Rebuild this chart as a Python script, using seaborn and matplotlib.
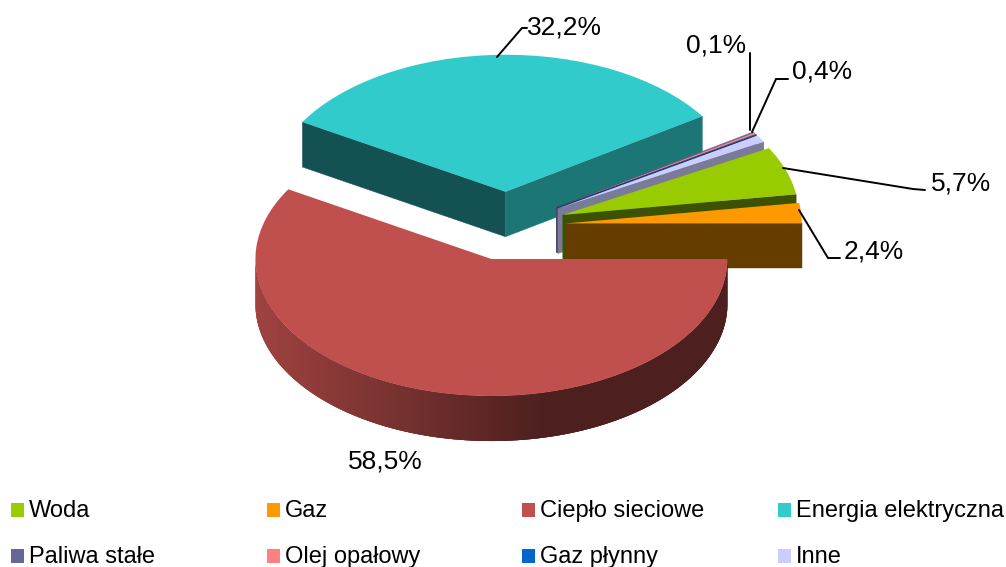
import matplotlib
matplotlib.use('Agg')
import matplotlib.pyplot as plt
from matplotlib.patches import Rectangle
import seaborn as sns
import numpy as np

# data
categories = ['Woda', 'Gaz', 'Ciepło sieciowe', 'Energia elektryczna',
              'Paliwa stałe', 'Olej opałowy', 'Gaz płynny', 'Inne']
shares = [5.7, 2.4, 58.5, 32.2, 0.1, 0.2, 0.05, 0.85]
colors = ['#99CC00', '#FF9900', '#C0504D', '#31CBCC',
          '#666699', '#FF8080', '#0066CC', '#CCCCFF']
labels = ['5,7%', '2,4%', '58,5%', '32,2%', '0,1%', '0,4%']

# layout, in pixels of the 1006x567 picture
W, H = 1006, 567
CX, CY = 507, 226
RX, RY = 236, 137
DEPTH = 45 / RY
EXPLODE = 0.25

# back to front
draw_order = [3, 4, 5, 6, 7, 0, 1, 2]
side_shade = [.4, .4, .4, .58, .6, .6, .6, .6]

label_pos = [(931, 190), (844, 258), (348, 468), (527, 35), (686, 53), (792, 79)]
leaders = [
    [(783, 168), (913, 189), (925, 190)],
    [(799, 210), (828, 258), (840, 258)],
    None,
    [(497, 57), (522, 28), (527, 28)],
    [(750, 130), (750, 53)],
    [(752, 132), (776, 79), (788, 79)],
]
legend_x = [11, 267, 522, 778]
legend_y = [517, 563]

sns.set_theme(style='white')
plt.rcParams['font.family'] = ['Liberation Sans', 'DejaVu Sans']


def to_data(px, py):
    return (px - CX) / RX, (CY - py) / RY


def shaded(color, k):
    return tuple(np.array(matplotlib.colors.to_rgb(color)) * k)


fig = plt.figure(figsize=(W / 100, H / 100), dpi=100)
ax = fig.add_axes([0, 0, 1, 1])

wedges, _ = ax.pie(shares, colors=sns.color_palette(colors), explode=[EXPLODE] * len(shares),
                   startangle=360 * sum(shares[:2]) / sum(shares), counterclock=False,
                   wedgeprops={'linewidth': 0})

for rank, i in enumerate(draw_order):
    w = wedges[i]
    z = 10 + rank * 3
    w.set_zorder(z + 2)
    x0, y0 = w.center

    # flat cut faces, only those turned to the viewer
    for theta, k in ((w.theta2, .4), (w.theta1, side_shade[i])):
        c, s = np.cos(np.radians(theta)), np.sin(np.radians(theta))
        visible = c < 0 if theta == w.theta2 else c > 0
        if visible:
            ax.fill([x0, x0 + c, x0 + c, x0], [y0, y0 + s, y0 + s - DEPTH, y0 - DEPTH],
                    color=shaded(colors[i], k), lw=0.3, zorder=z)

    # rim, shaded from left to right, each piece overlaps the next so no seams show
    t1, t2 = max(w.theta1, -180), min(w.theta2, 0)
    if t1 < t2:
        th = np.radians(np.linspace(t1, t2, 160))
        xs, ys = x0 + np.cos(th), y0 + np.sin(th)
        for j in range(len(th) - 1):
            k = np.interp(xs[j], [xs[0], x0 + 0.2], [.83, .40])
            end = min(j + 3, len(th) - 1)
            ax.fill(np.r_[xs[j:end + 1], xs[j:end + 1][::-1]],
                    np.r_[ys[j:end + 1], ys[j:end + 1][::-1] - DEPTH],
                    color=shaded(colors[i], k), lw=0, zorder=z + 1)

ax.set_aspect('auto')
ax.set_xlim(to_data(0, 0)[0], to_data(W, 0)[0])
ax.set_ylim(to_data(0, H)[1], to_data(0, 0)[1])
ax.axis('off')

# value labels with leader lines
for text, (px, py), line in zip(labels, label_pos, leaders):
    x, y = to_data(px, py)
    ax.text(x, y, text, fontsize=19, color='black', ha='left', va='baseline', zorder=50)
    if line:
        pts = [to_data(*p) for p in line]
        ax.plot([p[0] for p in pts], [p[1] for p in pts], color='black', lw=1.4, zorder=50,
                solid_joinstyle='miter')

# legend, four equal columns in two rows
for i, name in enumerate(categories):
    px = legend_x[i % 4]
    py = legend_y[i // 4]
    x, y = to_data(px, py)
    ax.add_patch(Rectangle((x, y), 13 / RX, 14 / RY, facecolor=colors[i], lw=0, zorder=50, clip_on=False))
    x, y = to_data(px + 18, py)
    ax.text(x, y, name, fontsize=17, color='black', ha='left', va='baseline', zorder=50, clip_on=False)

fig.savefig('out.png', dpi=100, facecolor='white')
